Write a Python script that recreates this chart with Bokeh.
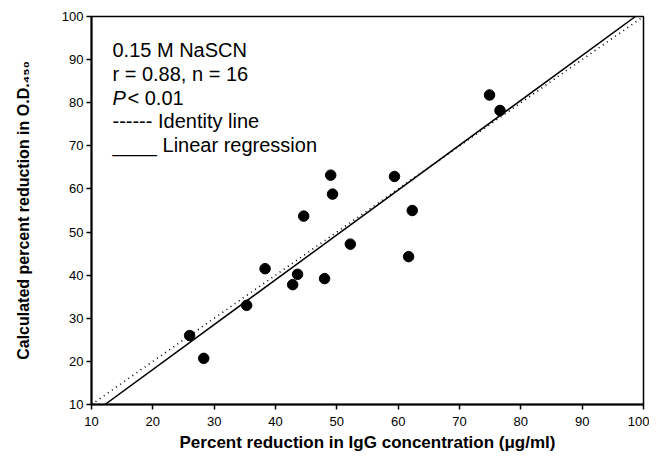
from bokeh.plotting import figure
from bokeh.models import Range1d, FixedTicker
from bokeh.core.properties import value
from bokeh.embed import file_html
from bokeh.resources import INLINE

# Data
igg_reduction = [26.0, 28.3, 35.3, 42.8, 38.3, 43.6, 48.0, 44.6, 49.0, 49.3,
                 52.2, 59.4, 61.7, 62.3, 74.9, 76.6]
od_reduction = [26.0, 20.7, 33.0, 37.8, 41.5, 40.2, 39.2, 53.7, 63.2, 58.8,
                47.2, 62.9, 44.3, 55.0, 81.8, 78.2]
reg_slope = 1.0405
reg_intercept = -2.69
axis_ticks = [10, 20, 30, 40, 50, 60, 70, 80, 90, 100]
info_lines = ["0.15 M NaSCN", "r = 0.88, n = 16"]
p_symbol = "P"
p_text = "< 0.01"
legend_lines = ["------ Identity line", "____ Linear regression"]

FONT = "Liberation Sans"

p = figure(width=649, height=454, output_backend="svg", toolbar_location=None,
           x_range=Range1d(10, 100), y_range=Range1d(10, 100),
           min_border_left=91, min_border_right=6, min_border_top=16, min_border_bottom=50)
p.grid.visible = False
p.background_fill_color = "white"
p.border_fill_color = "white"
p.outline_line_color = "black"
p.outline_line_width = 1.5

for ax in (p.xaxis[0], p.yaxis[0]):
    ax.ticker = FixedTicker(ticks=axis_ticks)
    ax.axis_line_width = 2
    ax.axis_line_color = "black"
    ax.major_tick_line_width = 1.5
    ax.major_tick_out = 5
    ax.major_tick_in = 0
    ax.minor_tick_line_color = None
    ax.major_label_text_font = FONT
    ax.major_label_text_font_size = "13px"
    ax.major_label_text_color = "black"
    ax.axis_label_text_font = FONT
    ax.axis_label_text_font_style = "bold"
    ax.axis_label_text_color = "black"

p.xaxis.axis_label = "Percent reduction in IgG concentration (\u03bcg/ml)"
p.yaxis.axis_label = "Calculated percent reduction in O.D.\u2084\u2085\u2080"
p.xaxis.axis_label_text_font_size = "17px"
p.yaxis.axis_label_text_font_size = "16px"
p.xaxis.major_label_standoff = 7
p.yaxis.major_label_standoff = 3
p.xaxis.axis_label_standoff = 4
p.yaxis.axis_label_standoff = 27

# identity line
p.line([10, 100], [10, 100], line_color="black", line_width=1.6, line_dash="1 4")
# regression line
x0 = (10 - reg_intercept) / reg_slope
x1 = (100 - reg_intercept) / reg_slope
p.line([x0, x1], [reg_slope * x0 + reg_intercept, reg_slope * x1 + reg_intercept],
       line_color="black", line_width=1.5)

p.scatter(igg_reduction, od_reduction, size=10.5, fill_color="black", line_color="black")

tx = 13.42
base_ys = [92.28, 86.7, 81.1, 75.7, 70.1]
fs = "20px"
p.text([tx, tx], base_ys[:2], text=info_lines, text_font=value(FONT), text_font_size=fs,
       text_baseline="alphabetic", text_color="black")
p.text([tx], [base_ys[2]], text=[p_symbol], text_font=value(FONT), text_font_size=fs,
       text_font_style="italic", text_baseline="alphabetic", text_color="black")
p.text([tx], [base_ys[2]], text=[p_text], text_font=value(FONT), text_font_size=fs,
       text_baseline="alphabetic", text_color="black", x_offset=15)
p.text([tx, tx], base_ys[3:], text=legend_lines, text_font=value(FONT), text_font_size=fs,
       text_baseline="alphabetic", text_color="black")

open("out.html", "w").write(file_html(p, INLINE))
